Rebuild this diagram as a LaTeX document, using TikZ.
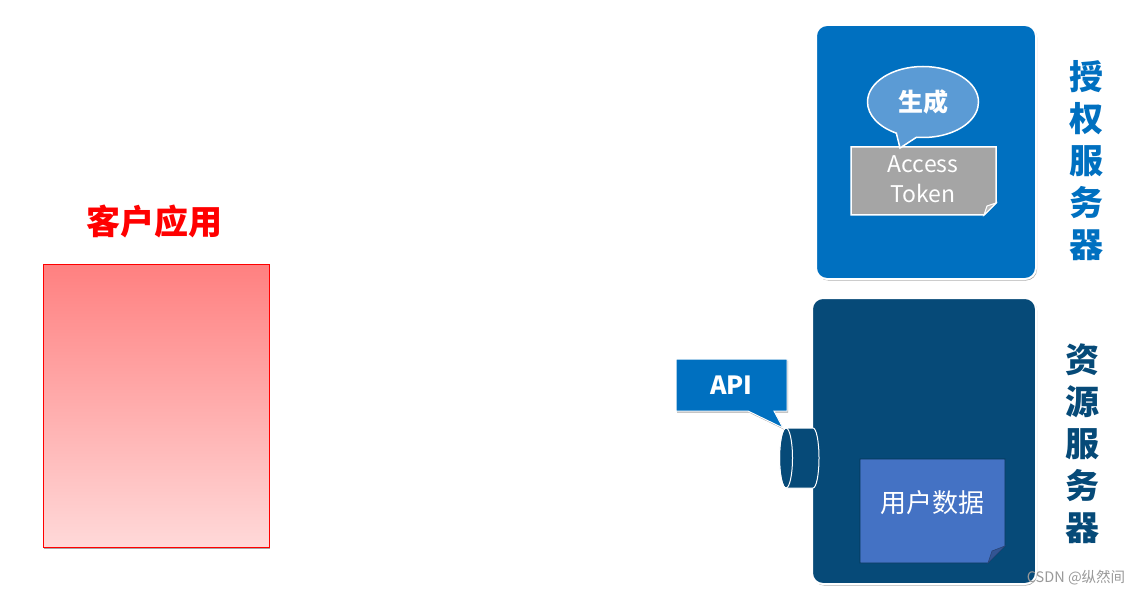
\documentclass[tikz,border=0pt]{standalone}
\usepackage{fontspec}
\newfontfamily\cjk{Noto Sans CJK SC}
\usetikzlibrary{shadows,shapes.callouts,shapes.geometric}
\definecolor{authblue}{HTML}{0070C0}
\definecolor{resblue}{HTML}{064A78}
\definecolor{bubblefill}{HTML}{5B9BD5}
\definecolor{tokengray}{HTML}{A5A5A5}
\definecolor{datablue}{HTML}{4472C4}
\definecolor{redtop}{HTML}{FF8080}
\definecolor{redbot}{HTML}{FFD9D9}
\tikzset{
  softshadow/.style={drop shadow={shadow xshift=1pt, shadow yshift=-1.5pt, opacity=0.35, fill=black}},
  srvbox/.style={draw=white, line width=2pt, rounded corners=11pt, softshadow, inner sep=0pt},
  vtext/.style={align=center, font={\cjk\bfseries\fontsize{34}{42}\selectfont}},
  whitetxt/.style={text=white, inner sep=0pt},
}
\begin{document}
\begin{tikzpicture}[x=1pt,y=-1pt]
\useasboundingbox (0,0) rectangle (1140,596);

% client application
\node[text=red, font={\cjk\bfseries\fontsize{34}{38}\selectfont}] (clientlabel) at (154,222) {客户应用};
\node[draw=red, line width=1pt, top color=redtop, bottom color=redbot, minimum width=226pt, minimum height=283pt, softshadow, inner sep=0pt] (client) at (156,405.5) {};

% authorization server
\node[srvbox, fill=authblue, minimum width=220pt, minimum height=254pt] (auth) at (926,152) {};
\node[vtext, text=authblue] (authlabel) at (1086,161) {授\\权\\服\\务\\器};

% access token (folded note)
\fill[tokengray, draw=white, line width=1.5pt] (851,147) -- (996,147) -- (996,203) -- (984,215) -- (851,215) -- cycle;
\fill[tokengray!75!white, draw=white, line width=1pt] (996,203) -- (984,215) -- (987,206) -- cycle;
\node[whitetxt, align=center, font={\cjk\fontsize{23}{30}\selectfont}] (token) at (923,179) {Access\\Token};

% bubble
\node[ellipse callout, fill=bubblefill, draw=white, line width=1.5pt, minimum width=111pt, minimum height=71pt, inner sep=0pt, callout absolute pointer={(900,148)}, callout pointer arc=22, font={\cjk\bfseries\fontsize{25}{28}\selectfont}, text=white] (gen) at (923,102) {生成};

% resource server
\node[srvbox, fill=resblue, minimum width=224pt, minimum height=286pt] (res) at (924,441) {};
\node[vtext, text=resblue] (reslabel) at (1082,444) {资\\源\\服\\务\\器};

% user data (folded note)
\fill[datablue, draw=resblue!70!black, line width=0.6pt] (860,459) -- (1005,459) -- (1005,546) -- (988,563) -- (860,563) -- cycle;
\fill[datablue!75!black, draw=datablue!60!black, line width=0.6pt] (1005,546) -- (988,563) -- (992,551) -- cycle;
\node[whitetxt, font={\cjk\fontsize{26}{30}\selectfont}] (data) at (932,503) {用户数据};

% API cylinder
\filldraw[fill=resblue, draw=white, line width=1pt] (786,428) -- (813,428) arc[start angle=-90, end angle=90, x radius=6, y radius=30] -- (786,488) arc[start angle=90, end angle=270, x radius=6.5, y radius=30] -- cycle;
\draw[white, line width=1pt] (786,458) ellipse [x radius=6.5, y radius=30];
\coordinate (apiend) at (783,428);

% API callout
\node[rectangle callout, fill=authblue, draw=white, line width=1pt, minimum width=111pt, minimum height=52pt, inner sep=0pt, callout absolute pointer={(apiend)}, callout pointer width=26pt, softshadow, font={\cjk\bfseries\fontsize{25}{28}\selectfont}, text=white] (api) at (731.5,385) {API};

% watermark
\node[text=gray!80, font={\cjk\fontsize{14.5}{16}\selectfont}] (wm) at (1076,578) {CSDN @纵然间};
\end{tikzpicture}
\end{document}
